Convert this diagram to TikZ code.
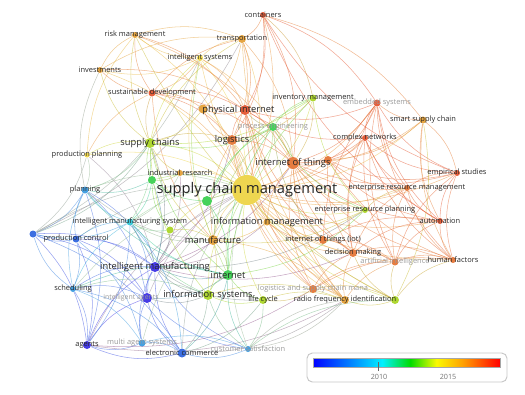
\documentclass[tikz,border=0pt]{standalone}
\usepackage{fontspec}
\setmainfont{Open Sans}
\pgfdeclarelayer{bg}
\pgfsetlayers{bg,main}

% year colours, blue = older, red = newer
\definecolor{yr1}{RGB}{70,60,230}
\definecolor{yr2}{RGB}{60,110,225}
\definecolor{yr3}{RGB}{70,160,225}
\definecolor{yr4}{RGB}{60,200,215}
\definecolor{yr5}{RGB}{70,210,90}
\definecolor{yr6}{RGB}{175,215,50}
\definecolor{yr7}{RGB}{238,214,80}
\definecolor{yr8}{RGB}{230,165,65}
\definecolor{yr9}{RGB}{230,125,65}
\definecolor{yr10}{RGB}{230,95,60}
\definecolor{barblue}{RGB}{0,0,255}
\definecolor{barcyan}{RGB}{0,240,255}
\definecolor{bargreen}{RGB}{0,220,0}
\definecolor{baryellow}{RGB}{250,250,0}
\definecolor{barorange}{RGB}{255,160,0}
\definecolor{barred}{RGB}{255,0,0}

\pgfdeclarehorizontalshading{yearbar}{100bp}{color(0bp)=(barblue); color(25bp)=(barblue);
  color(43.5bp)=(barcyan); color(51bp)=(bargreen); color(58bp)=(baryellow);
  color(65bp)=(barorange); color(75bp)=(barred); color(100bp)=(barred)}

\tikzset{every picture/.style={line width=0.75pt}}
\tikzset{
  dot/.style={circle, inner sep=0pt, draw=none},
  fs/.style={font=\fontsize{5.6}{6}\selectfont, text=black!85, inner sep=0pt},
  fm/.style={font=\fontsize{7}{8}\selectfont, text=black!85, inner sep=0pt},
  fl/.style={font=\fontsize{11}{12}\selectfont, text=black!85, inner sep=0pt},
  fg/.style={font=\fontsize{5.6}{6}\selectfont, text=black!40, inner sep=0pt},
  link/.style={line width=0.4pt, draw opacity=0.55, bend left=18},
  yrlbl/.style={font=\fontsize{5.4}{6}\selectfont, text=black!55, inner sep=0pt},
}

% name/x/y/radius/colour/font/label
\def\kwlist{cont/263/15/3/yr10/fs/containers,
risk/135/35/3/yr8/fs/risk management,
trans/242/39/4/yr8/fs/transportation,
intsys/200/58/3/yr7/fs/intelligent systems,
invest/100/70/3/yr8/fs/investments,
sust/152/93/3.5/yr10/fs/sustainable development,
ynode/203/109/4.5/yr8/fs/,
physint/245/110/5/yr10/fm/,
invman/313/98/3.5/yr6/fs/inventory management,
embsys/377/103/3.5/yr10/fg/embedded systems,
smartsc/423/120/3.5/yr8/fs/smart supply chain,
proceng/273/127/4/yr5/fg/process engineering,
logist/232/140/5/yr9/fm/logistics,
supch/150/143/5/yr6/fm/supply chains,
prodplan/87/155/2.5/yr7/fs/production planning,
cnet/365/138/3/yr10/fs/complex networks,
iot/293/163/6/yr9/fm/internet of things,
iotb/328/160/4/yr9/fs/,
indres/180/173/3/yr8/fs/industrial research,
gnode/152/180/4/yr5/fs/,
empst/457/173/3/yr10/fs/empirical studies,
plan/85/190/3.5/yr3/fs/planning,
scm/247/190/15/yr7/fl/supply chain management,
erm/407/188/3/yr9/fs/enterprise resource management,
gnodeb/207/201/5/yr5/fs/,
erp/365/210/3/yr6/fs/enterprise resource planning,
ims/130/222/3.5/yr4/fs/intelligent manufacturing system,
infman/267/222/3.5/yr8/fm/information management,
autom/440/221/3/yr10/fs/automation,
ygnode/170/230/3.5/yr6/fs/,
bnode/33/234/3.5/yr2/fs/,
prodctl/76/239/3.5/yr2/fs/production control,
manuf/213/240/5/yr8/fm/manufacture,
iotiot/323/240/4/yr9/fs/internet of things (iot),
decis/353/253/4/yr9/fs/decision making,
artint/395/262/3.5/yr9/fg/artificial intelligence,
humf/453/260/3/yr9/fs/human factors,
intman/155/267/5/yr1/fm/intelligent manufacturing,
inet/228/275/5/yr5/fm/internet,
sched/73/289/3/yr3/fs/scheduling,
intag/147/298/5/yr1/fg/,
infsys/208/295/5/yr6/fm/information systems,
lifec/263/300/4/yr6/fs/life cycle,
lscm/313/289/4/yr9/fg/logistics and supply chain mana,
rfid/345/300/4/yr8/fs/radio frequency identification,
rfidb/395/300/4/yr6/fs/,
agents/87/345/4/yr1/fs/agents,
mas/142/343/3.5/yr3/fg/multi agent systems,
ecom/182/353/4.5/yr2/fs/electronic commerce,
custsat/248/349/3/yr3/fg/customer satisfaction}

\def\linklist{scm/cont,scm/risk,scm/trans,scm/intsys,scm/invest,scm/sust,scm/ynode,scm/physint,scm/invman,scm/embsys,scm/smartsc,scm/proceng,scm/logist,scm/supch,scm/prodplan,scm/cnet,scm/iot,scm/iotb,scm/indres,scm/gnode,scm/empst,scm/plan,scm/erm,scm/gnodeb,scm/erp,scm/ims,scm/infman,scm/autom,scm/ygnode,scm/bnode,scm/prodctl,scm/manuf,scm/iotiot,scm/decis,scm/artint,scm/humf,scm/intman,scm/inet,scm/sched,scm/intag,scm/infsys,scm/lifec,scm/lscm,scm/rfid,scm/rfidb,scm/agents,scm/mas,scm/ecom,scm/custsat,
intman/plan,intman/prodctl,intman/bnode,intman/sched,intman/intag,intman/agents,intman/mas,intman/ecom,intman/custsat,intman/ims,intman/infsys,intman/inet,intman/manuf,intman/supch,intman/indres,intman/gnode,intman/prodplan,intman/lifec,intman/infman,intman/iot,intman/decis,intman/erp,intman/ygnode,intman/logist,
intag/agents,intag/ecom,intag/mas,intag/sched,intag/bnode,intag/prodctl,intag/plan,intag/ims,intag/infsys,intag/custsat,intag/inet,
agents/bnode,agents/sched,agents/ecom,agents/mas,agents/prodctl,agents/plan,agents/ims,agents/rfid,agents/lscm,
ecom/mas,ecom/custsat,ecom/infsys,ecom/inet,ecom/ims,ecom/bnode,ecom/sched,ecom/lifec,ecom/rfid,
bnode/plan,bnode/prodctl,bnode/sched,bnode/ims,bnode/supch,bnode/prodplan,bnode/trans,bnode/intsys,
plan/prodctl,plan/ims,plan/sched,plan/supch,plan/prodplan,plan/gnode,plan/inet,plan/manuf,
ims/prodctl,ims/sched,ims/inet,ims/manuf,ims/gnode,ims/ygnode,ims/indres,ims/supch,ims/infsys,
iot/cont,iot/trans,iot/physint,iot/invman,iot/embsys,iot/smartsc,iot/proceng,iot/logist,iot/cnet,iot/iotb,iot/erm,iot/empst,iot/erp,iot/autom,iot/iotiot,iot/decis,iot/artint,iot/humf,iot/lscm,iot/rfid,iot/infman,iot/sust,iot/risk,iot/intsys,
iotb/embsys,iotb/cnet,iotb/empst,iotb/erm,iotb/autom,iotb/humf,iotb/smartsc,iotb/decis,
physint/cont,physint/trans,physint/logist,physint/sust,physint/invest,physint/risk,physint/intsys,physint/embsys,physint/cnet,physint/lscm,physint/rfid,physint/iotiot,physint/decis,physint/proceng,
logist/cont,logist/trans,logist/sust,logist/supch,logist/rfid,logist/lscm,logist/manuf,logist/infman,logist/invman,logist/rfidb,
embsys/cnet,embsys/empst,embsys/erm,embsys/autom,embsys/humf,embsys/artint,embsys/iotiot,embsys/decis,embsys/smartsc,embsys/cont,
cnet/empst,cnet/erm,cnet/autom,cnet/humf,cnet/artint,cnet/decis,
empst/erm,empst/autom,empst/humf,empst/smartsc,empst/artint,
erm/autom,erm/humf,erm/artint,erm/decis,erm/erp,
autom/humf,autom/artint,autom/decis,autom/iotiot,
humf/artint,humf/decis,humf/rfidb,humf/lscm,
artint/decis,artint/iotiot,artint/rfidb,artint/lscm,artint/rfid,
decis/iotiot,decis/lscm,decis/rfid,decis/rfidb,
rfid/lscm,rfid/rfidb,rfid/lifec,rfid/infsys,rfid/custsat,rfid/manuf,
rfidb/lscm,rfidb/smartsc,rfidb/custsat,
trans/cont,trans/risk,trans/intsys,trans/sust,trans/invest,trans/supch,trans/rfid,
risk/invest,risk/sust,risk/intsys,risk/supch,risk/rfidb,risk/prodplan,
invest/sust,invest/intsys,invest/supch,invest/plan,
sust/intsys,sust/supch,sust/prodplan,sust/manuf,
intsys/supch,intsys/manuf,intsys/rfid,intsys/inet,
supch/prodplan,supch/indres,supch/gnode,supch/manuf,supch/infsys,supch/inet,supch/proceng,supch/invman,supch/ynode,
invman/proceng,invman/erp,invman/gnodeb,invman/inet,invman/cont,
proceng/erp,proceng/gnodeb,proceng/inet,proceng/manuf,proceng/iotiot,
inet/infsys,inet/lifec,inet/custsat,inet/manuf,inet/gnodeb,inet/erp,inet/sched,
infsys/lifec,infsys/custsat,infsys/manuf,infsys/sched,
manuf/infman,manuf/gnodeb,manuf/ygnode,manuf/erp,
infman/erp,infman/iotiot,infman/decis,
gnode/indres,gnode/gnodeb,gnode/ygnode,
custsat/lifec,custsat/mas,custsat/rfid,
mas/sched,mas/prodctl,
sched/prodctl,
ynode/physint,ynode/sust,ynode/logist,ynode/trans,
lifec/lscm,
cont/empst,cont/autom,
smartsc/cont,smartsc/humf,smartsc/autom}

\begin{document}
\begin{tikzpicture}[x=0.75pt,y=0.75pt,yscale=-1,xscale=1]
\useasboundingbox (0,0) rectangle (525,394);

% keyword circles
\foreach \n/\x/\y/\s/\cl/\fnt/\lb in \kwlist {
  \node[dot, minimum size=\s*1.5pt, fill=\cl] (\n) at (\x,\y) {};
  \expandafter\xdef\csname col\n\endcsname{\cl}
}

% co-occurrence links
\begin{pgfonlayer}{bg}
\foreach \a/\b in \linklist {
  \edef\ca{\csname col\a\endcsname}\edef\cb{\csname col\b\endcsname}
  \draw[link, draw=\ca!50!\cb] (\a) to (\b);
}
\end{pgfonlayer}

% keyword labels
\foreach \n/\x/\y/\s/\cl/\fnt/\lb in \kwlist {
  \ifx\lb\empty\else
    \node[\fnt] (\n-t) at (\n) {\lb};
  \fi
}
\node[fm] (physint-t) at ([xshift=-5pt]physint) {physical internet};
\node[fg, font=\fontsize{5.2}{6}\selectfont] (intag-t) at ([xshift=-12pt]intag) {intelligent agents};

% year legend
\draw[black!22, line width=0.7pt, fill=white, rounded corners=4pt] (307,353) rectangle (507,382);
\shade[shading=yearbar] (313,358) rectangle (500,367);
\draw[black!35, line width=0.3pt] (313,358) rectangle (500,367);
\draw[black!60, line width=0.5pt] (378,362) -- (378,371);
\node[yrlbl] (y2010) at (379,377) {2010};
\node[yrlbl] (y2015) at (448,377) {2015};

\end{tikzpicture}
\end{document}
